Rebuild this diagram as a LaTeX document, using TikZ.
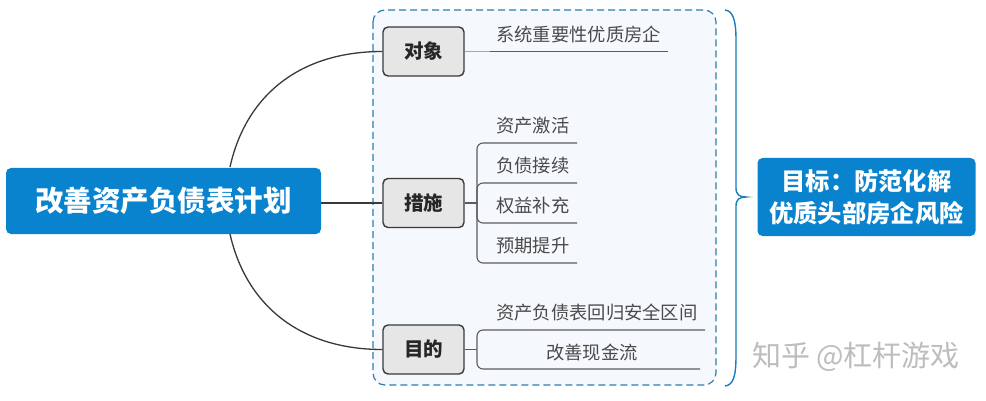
\documentclass[tikz,border=0pt]{standalone}
\usepackage{fontspec}
\setmainfont{Noto Sans CJK SC}
\definecolor{mblue}{HTML}{0A83CF}
\definecolor{dashblue}{HTML}{2B7FAF}
\definecolor{panel}{HTML}{F5F9FD}
\definecolor{boxgray}{HTML}{E6E6E6}
\definecolor{linegray}{HTML}{3A3A3A}
\definecolor{txtgray}{HTML}{4A4A4A}
\definecolor{wm}{HTML}{BDBDBD}
\definecolor{bracecol}{HTML}{1C7DBE}
\begin{document}
\begin{tikzpicture}[x=1pt,y=-1pt,
  bluebox/.style={fill=mblue, rounded corners=5pt, text=white, inner sep=0pt},
  graybox/.style={draw=linegray, line width=1.4pt, fill=boxgray, rounded corners=5pt,
    minimum width=81pt, minimum height=49pt, inner sep=0pt, text=black!85,
    font=\fontsize{19.5}{22}\selectfont\bfseries},
  conn/.style={draw=linegray, line width=1.3pt},
  branch/.style={draw=txtgray!90, line width=1.1pt, rounded corners=6pt},
  leaf/.style={inner sep=0pt, text=txtgray, font=\fontsize{18.3}{20}\selectfont},
]
\useasboundingbox (0,0) rectangle (986,401);
\fill[white] (0,0) rectangle (986,401);

% dashed panel
\draw[dashblue, fill=panel, line width=1.2pt, dash pattern=on 7pt off 4pt, rounded corners=12pt]
  (373,10) rectangle (716,385);

% root
\node[bluebox, minimum width=315pt, minimum height=66pt,
  font=\fontsize{28.5}{32}\selectfont\bfseries] (root) at (163.5,201) {改善资产负债表计划};

% category boxes
\node[graybox] (obj)  at (423.5,51.5) {对象};
\node[graybox] (meas) at (423.5,203) {措施};
\node[graybox] (purp) at (423.5,349.5) {目的};

% connectors from root
\coordinate (rt) at (230,167);
\coordinate (rb) at (230,234);
\draw[conn] (rt) .. controls (246,95) and (300,51.5) .. (obj.west);
\draw[conn] (rb) .. controls (246,305) and (300,349.5) .. (purp.west);
\draw[conn] (root.east |- meas.west) -- (meas.west);

% object branch
\coordinate (o1) at (490,51.5);
\coordinate (o2) at (668,51.5);
\draw[draw=gray!70, line width=1.1pt] (obj.east) -- (o1);
\draw[branch] (o1) -- (o2);
\node[leaf, anchor=west] (t0) at (496,34) {系统重要性优质房企};

% measures branch
\coordinate (mj) at (477,203);
\draw[branch] (meas.east) -- (mj);
\foreach \y/\n in {143/m1,183/m2,223/m3,263/m4}{
  \coordinate (\n a) at (492,\y);
  \coordinate (\n b) at (577,\y);
  \draw[branch] (mj) |- (\n a) -- (\n b);
}
\node[leaf, anchor=west] (t1) at (496,126) {资产激活};
\node[leaf, anchor=west] (t2) at (496,166) {负债接续};
\node[leaf, anchor=west] (t3) at (496,206) {权益补充};
\node[leaf, anchor=west] (t4) at (496,246) {预期提升};

% purpose branch
\coordinate (pj) at (477,349.5);
\coordinate (p1a) at (492,330);
\coordinate (p1b) at (705,330);
\coordinate (p2a) at (492,369);
\coordinate (p2b) at (700,369);
\draw[branch] (purp.east) -- (pj);
\draw[branch] (pj) |- (p1a) -- (p1b);
\draw[branch] (pj) |- (p2a) -- (p2b);
\node[leaf, anchor=west] (t5) at (496,313) {资产负债表回归安全区间};
\node[leaf] (t6) at (592,352) {改善现金流};

% brace
\coordinate (bt) at (725,10);
\coordinate (bb) at (725,386);
\coordinate (btip) at (746,197);
\draw[bracecol, line width=1.4pt]
  (bt) .. controls (733,11) and (736,20) .. (736,40)
  -- (736,188) .. controls (736,195) and (740,197) .. (btip)
  .. controls (740,197) and (736,199) .. (736,206)
  -- (736,356) .. controls (736,377) and (733,385) .. (bb);

% goal
\node[bluebox, minimum width=218pt, minimum height=78pt, align=center,
  font=\fontsize{24.3}{32}\selectfont\bfseries] (goal) at (866.5,197)
  {目标：防范化解\\优质头部房企风险};

% watermark
\node[inner sep=0pt, text=wm, font=\fontsize{29}{30}\selectfont] (wmk) at (856,357) {知乎 @杠杆游戏};
\end{tikzpicture}
\end{document}
